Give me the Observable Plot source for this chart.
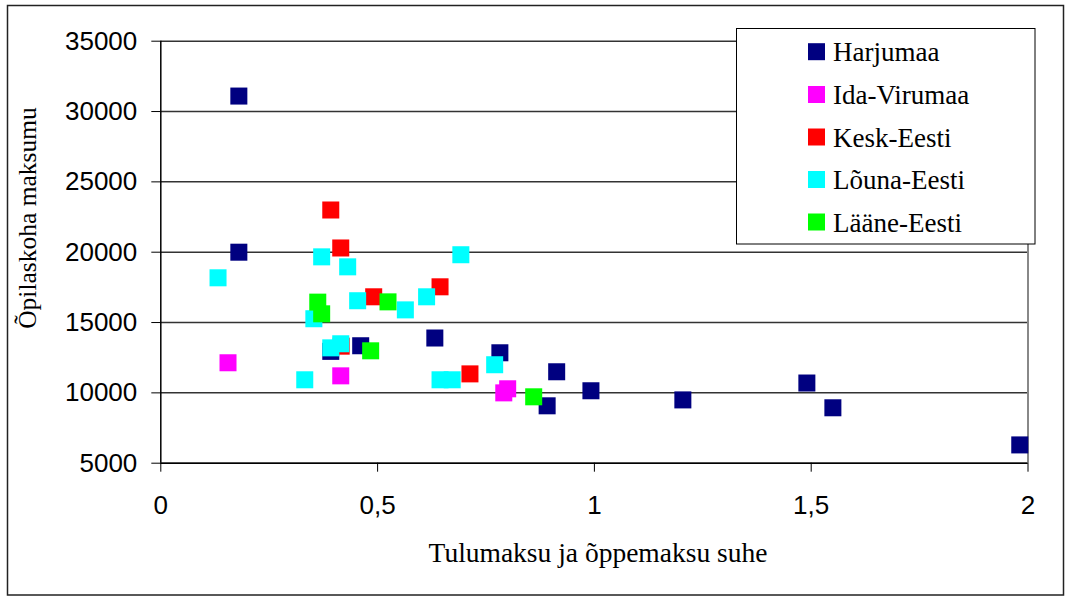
<!DOCTYPE html>
<html>
<head>
<meta charset="utf-8">
<script src="https://cdn.jsdelivr.net/npm/d3@7"></script>
<script src="https://cdn.jsdelivr.net/npm/@observablehq/plot@0.6"></script>
<style>
  html, body { margin: 0; padding: 0; background: white; }
  #chart { width: 1068px; height: 598px; }
</style>
</head>
<body>
<div id="chart"></div>
<script>
const categories = ["Harjumaa", "Ida-Virumaa", "Kesk-Eesti", "Lõuna-Eesti", "Lääne-Eesti"];
const colors = ["#000080", "#FF00FF", "#FF0000", "#00FFFF", "#00FF00"];

const harjumaaX = [0.18, 0.18, 0.392, 0.461, 0.632, 0.782, 0.891, 0.913, 0.992, 1.204, 1.49, 1.55, 1.981];
const harjumaaY = [31100, 20000, 12950, 13350, 13900, 12850, 9080, 11500, 10150, 9500, 10700, 8940, 6300];

const idaVirumaaX = [0.155, 0.415, 0.791, 0.8];
const idaVirumaaY = [12140, 11210, 10000, 10290];

const keskEestiX = [0.392, 0.415, 0.416, 0.491, 0.644, 0.713];
const keskEestiY = [23000, 20300, 13320, 16830, 17540, 11350];

const lounaEestiX = [0.371, 0.431, 0.132, 0.454, 0.564, 0.353, 0.392, 0.415, 0.332, 0.692, 0.613, 0.77, 0.644, 0.672];
const lounaEestiY = [19670, 18960, 18180, 16550, 15900, 15270, 13200, 13490, 10930, 19820, 16830, 12000, 10930, 10930];

const laaneEestiX = [0.524, 0.362, 0.371, 0.484, 0.86];
const laaneEestiY = [16470, 16450, 15620, 12990, 9720];

const xTicks = [0, 0.5, 1, 1.5, 2];
const yTicks = [5000, 10000, 15000, 20000, 25000, 30000, 35000];

const xTitle = "Tulumaksu ja õppemaksu suhe";
const yTitle = "Õpilaskoha maksumu";

const seriesX = [harjumaaX, idaVirumaaX, keskEestiX, lounaEestiX, laaneEestiX];
const seriesY = [harjumaaY, idaVirumaaY, keskEestiY, lounaEestiY, laaneEestiY];
const data = [];
categories.forEach((c, i) => {
  seriesX[i].forEach((x, j) => data.push({cat: c, x: x, y: seriesY[i][j]}));
});

const sans = "'Liberation Sans', Arial, sans-serif";
const serif = "'Liberation Serif', 'Times New Roman', serif";

const chart = Plot.plot({
  width: 1068,
  height: 598,
  marginLeft: 160.3,
  marginRight: 40.5,
  marginTop: 40.7,
  marginBottom: 135.3,
  style: {fontFamily: sans, fontSize: "26px", color: "black", background: "white"},
  x: {domain: [0, 2]},
  y: {domain: [5000, 35000]},
  color: {domain: categories, range: colors},
  marks: [
    Plot.gridY(yTicks, {stroke: "#333", strokeOpacity: 1, strokeWidth: 1.5}),
    Plot.ruleX([2], {stroke: "#888", strokeWidth: 2}),
    Plot.axisX(xTicks, {tickSize: 9, tickPadding: 23, fontSize: 26, label: null,
      tickFormat: d => String(d).replace(".", ",")}),
    Plot.axisY(yTicks, {tickSize: 9, tickPadding: 14.5, fontSize: 26, label: null,
      tickFormat: d => String(d)}),
    Plot.ruleX([0], {stroke: "black", strokeWidth: 1.5}),
    Plot.ruleY([5000], {stroke: "black", strokeWidth: 1.5}),
    Plot.dot(data, {x: "x", y: "y", fill: "cat", symbol: "square", r: 9.6, stroke: "none"})
  ]
});

const svg = d3.select(chart);

// outer frame
svg.insert("rect", ":first-child")
  .attr("x", 7.5).attr("y", 5.5).attr("width", 1056).attr("height", 589.5)
  .attr("fill", "none").attr("stroke", "#222").attr("stroke-width", 1.5);

// axis titles
svg.append("text")
  .attr("x", 598).attr("y", 562)
  .attr("text-anchor", "middle")
  .attr("font-family", serif).attr("font-size", 27.5).attr("fill", "black")
  .text(xTitle);

svg.append("text")
  .attr("transform", "translate(36,218) rotate(-90)")
  .attr("text-anchor", "middle")
  .attr("font-family", serif).attr("font-size", 25.5).attr("fill", "black")
  .text(yTitle);

// legend
const lg = svg.append("g").attr("text-anchor", "start");
lg.append("rect")
  .attr("x", 736.5).attr("y", 28.5).attr("width", 298.5).attr("height", 215.5)
  .attr("fill", "white").attr("stroke", "black").attr("stroke-width", 1);
const rowY = [51.7, 94.5, 137, 179.5, 222];
categories.forEach((c, i) => {
  lg.append("rect")
    .attr("x", 808).attr("y", rowY[i] - 8.5).attr("width", 17).attr("height", 17)
    .attr("fill", colors[i]);
  lg.append("text")
    .attr("x", 833).attr("y", rowY[i] + 9.5)
    .attr("text-anchor", "start")
    .attr("font-family", serif).attr("font-size", 27).attr("fill", "black")
    .text(c);
});

document.getElementById("chart").appendChild(chart);
</script>
</body>
</html>
